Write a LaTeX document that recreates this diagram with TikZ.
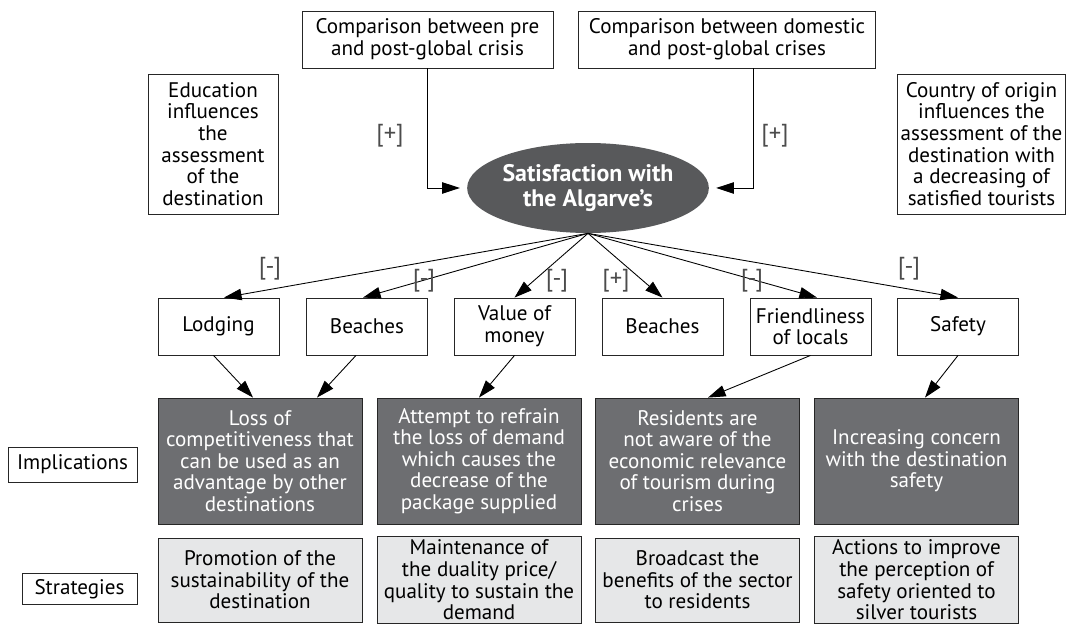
\documentclass[tikz,border=0pt]{standalone}
\usepackage{fontspec}
\setmainfont{PT Sans}
\usetikzlibrary{shapes.geometric}
\usetikzlibrary{arrows.meta}
\definecolor{ovalgray}{HTML}{58595B}
\definecolor{impgray}{HTML}{6D6E71}
\definecolor{stratgray}{HTML}{E6E7E8}

\begin{document}
\begin{tikzpicture}[x=0.02cm, y=-0.02cm,
    font=\fontsize{12}{12.3}\selectfont,
    box/.style={draw=black!85, line width=0.5pt, align=center, inner sep=2pt},
    factor/.style={box, minimum width=2.42cm, minimum height=1.14cm},
    impl/.style={box, fill=impgray, text=white, minimum width=4.08cm, minimum height=2.52cm},
    strat/.style={box, fill=stratgray, minimum width=4.08cm, minimum height=1.68cm},
    sign/.style={font=\fontsize{14}{14}\selectfont, text=black!70},
    link/.style={-{Triangle[length=10pt,width=6.5pt]}, line width=0.5pt}]
    \useasboundingbox (0,0) rectangle (1074,624);

    % comparisons and influences
    \node[box, minimum width=5.02cm, minimum height=1.14cm] (pre) at (427.5,39.5) {Comparison between pre\\and post-global crisis};
    \node[box, anchor=west, minimum height=1.14cm, inner xsep=6pt] (domestic) at (578,39.5) {Comparison between domestic\\and post-global crises};
    \node[box, minimum width=2.6cm, minimum height=2.8cm] (education) at (213,144) {Education\\influences\\the\\assessment\\of the\\destination};
    \node[box, minimum width=3.26cm, minimum height=2.8cm] (origin) at (981.5,144) {Country of origin\\influences the\\assessment of the\\destination with\\a decreasing of\\satisfied tourists};

    \node[ellipse, fill=ovalgray, text=white, inner sep=0pt, minimum width=4.76cm, minimum height=1.8cm,
          font=\fontsize{13.6}{14.5}\selectfont\bfseries, align=center] (sat) at (588,188) {Satisfaction with\\the Algarve's};

    \draw[link] (pre.south) |- ([xshift=-0.14cm]sat.west);
    \draw[link] ([xshift=3.5cm]domestic.south west) |- ([xshift=0.14cm]sat.east);
    \node[sign] (plusa) at (390,136) {[+]};
    \node[sign] (plusb) at (775,136) {[+]};

    % attributes
    \node[factor] (lodging) at (218.5,326.5) {Lodging};
    \node[factor] (beaches) at (367,326.5) {Beaches};
    \node[factor] (value) at (514.5,326.5) {Value of\\money};
    \node[factor] (beachesb) at (662.5,326.5) {Beaches};
    \node[factor] (friendly) at (810.5,326.5) {Friendliness\\of locals};
    \node[factor] (safety) at (958,326.5) {Safety};

    \draw[link] (sat.south) -- ([xshift=0.11cm]lodging.north);
    \draw[link] (sat.south) -- ([xshift=-0.08cm]beaches.north);
    \draw[link] (sat.south) -- (value.north);
    \draw[link] (sat.south) -- (beachesb.north);
    \draw[link] (sat.south) -- ([xshift=0.13cm]friendly.north);
    \draw[link] (sat.south) -- (safety.north);

    \node[sign] (s1) at (270,269) {[-]};
    \node[sign] (s2) at (424,281) {[-]};
    \node[sign] (s3) at (557,281) {[-]};
    \node[sign] (s4) at (616,281) {[+]};
    \node[sign] (s5) at (752,281) {[-]};
    \node[sign] (s6) at (909,269) {[-]};

    % implications
    \node[box, minimum width=2.58cm, minimum height=0.7cm] (implab) at (72.5,464.5) {Implications};
    \node[impl] (imp1) at (260,461) {Loss of\\competitiveness that\\can be used as an\\advantage by other\\destinations};
    \node[impl] (imp2) at (479,461) {Attempt to refrain\\the loss of demand\\which causes the\\decrease of the\\package supplied};
    \node[impl] (imp3) at (697.5,461) {Residents are\\not aware of the\\economic relevance\\of tourism during\\crises};
    \node[impl] (imp4) at (916.5,461) {Increasing concern\\with the destination\\safety};

    \draw[link] ([xshift=-0.1cm]lodging.south) -- ([xshift=-0.14cm]imp1.north);
    \draw[link] ([xshift=-0.22cm]beaches.south) -- ([xshift=1.14cm]imp1.north);
    \draw[link] (value.south) -- (imp2.north);
    \draw[link] (friendly.south) -- ([xshift=0.21cm]imp3.north);
    \draw[link] (safety.south) -- ([xshift=0.17cm]imp4.north);

    % strategies
    \node[box, minimum width=2.3cm, minimum height=0.62cm] (stratlab) at (79.5,589) {Strategies};
    \node[strat] (str1) at (260,580) {Promotion of the\\sustainability of the\\destination};
    \node[strat] (str2) at (479,580) {Maintenance of\\the duality price/\\quality to sustain the\\demand};
    \node[strat] (str3) at (697.5,580) {Broadcast the\\benefits of the sector\\to residents};
    \node[strat] (str4) at (916.5,580) {Actions to improve\\the perception of\\safety oriented to\\silver tourists};
\end{tikzpicture}
\end{document}
